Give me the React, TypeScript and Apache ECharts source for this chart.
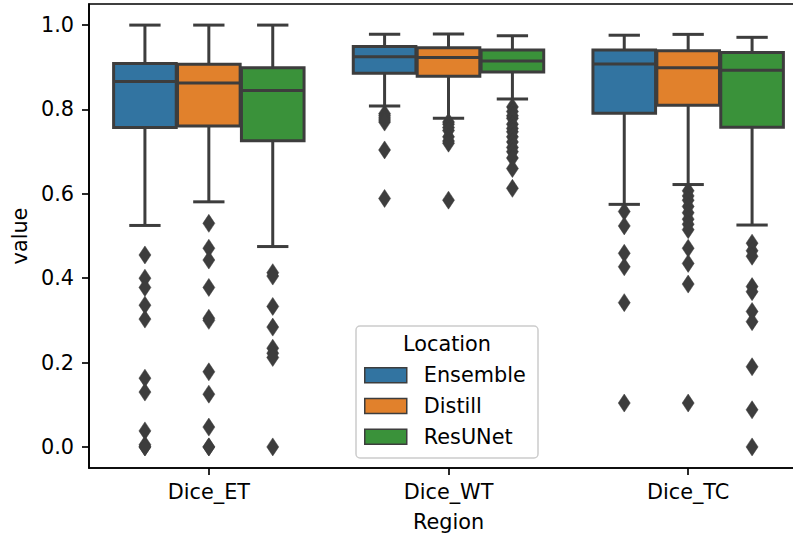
import React, { useEffect, useRef } from "react";
import * as echarts from "echarts";

// ---- data ----
const categories = ["Dice_ET", "Dice_WT", "Dice_TC"];
const hues = ["Ensemble", "Distill", "ResUNet"];
const hueColors = ["#3274a1", "#e1812c", "#3a923a"];
const yTicks = [0, 0.2, 0.4, 0.6, 0.8, 1.0];

// [lowerWhisker, q1, median, q3, upperWhisker] per category
const ensembleStats = [
  [0.525, 0.757, 0.866, 0.909, 1.0],
  [0.808, 0.886, 0.925, 0.949, 0.978],
  [0.575, 0.791, 0.908, 0.941, 0.976],
];
const distillStats = [
  [0.581, 0.761, 0.863, 0.907, 1.0],
  [0.779, 0.879, 0.923, 0.946, 0.979],
  [0.622, 0.81, 0.899, 0.939, 0.978],
];
const resunetStats = [
  [0.475, 0.726, 0.845, 0.899, 1.0],
  [0.825, 0.889, 0.915, 0.941, 0.975],
  [0.526, 0.758, 0.893, 0.935, 0.971],
];

// outliers per category
const ensembleOutliers = [
  [0.455, 0.4, 0.378, 0.336, 0.303, 0.163, 0.13, 0.038, 0.005, 0.0, 0.0],
  [0.79, 0.785, 0.78, 0.775, 0.77, 0.704, 0.589],
  [0.558, 0.524, 0.459, 0.427, 0.342, 0.104],
];
const distillOutliers = [
  [0.53, 0.471, 0.443, 0.378, 0.305, 0.3, 0.178, 0.125, 0.047, 0.0, 0.0],
  [0.77, 0.765, 0.757, 0.75, 0.735, 0.725, 0.72, 0.585],
  [0.607, 0.595, 0.585, 0.57, 0.555, 0.54, 0.528, 0.515, 0.471, 0.435, 0.386, 0.104],
];
const resunetOutliers = [
  [0.413, 0.405, 0.333, 0.284, 0.234, 0.222, 0.212, 0.0],
  [0.806, 0.795, 0.785, 0.779, 0.765, 0.755, 0.747, 0.735, 0.723, 0.71, 0.7, 0.685, 0.66, 0.613],
  [0.483, 0.465, 0.452, 0.38, 0.368, 0.321, 0.297, 0.19, 0.088, 0.0],
];

const allStats = [ensembleStats, distillStats, resunetStats];
const allOutliers = [ensembleOutliers, distillOutliers, resunetOutliers];

const GRAY = "#3d3d3d";
const FONT = "'DejaVu Sans', sans-serif";
const FS = 20.8;
const LW = 3;

function boxSeries(h: number) {
  const data = allStats[h].map((s, i) => [i, ...s]);
  return {
    type: "custom",
    name: hues[h],
    color: hueColors[h],
    itemStyle: { color: hueColors[h] },
    encode: { x: 0, y: [1, 2, 3, 4, 5] },
    data,
    z: 2,
    renderItem: (params: any, api: any) => {
      const cat = api.value(0);
      const band = api.size([1, 0])[0];
      const w = (band * 0.8) / 3;
      const cx = api.coord([cat, 0])[0] + (h - 1) * w;
      const bw = w * 0.98;
      const y = (k: number) => api.coord([cat, api.value(k)])[1];
      const yLow = y(1), yQ1 = y(2), yMed = y(3), yQ3 = y(4), yHigh = y(5);
      const capHalf = bw / 4;
      const ls = { stroke: GRAY, lineWidth: LW };
      return {
        type: "group",
        children: [
          { type: "line", shape: { x1: cx, y1: yQ3, x2: cx, y2: yHigh }, style: ls },
          { type: "line", shape: { x1: cx, y1: yQ1, x2: cx, y2: yLow }, style: ls },
          { type: "line", shape: { x1: cx - capHalf, y1: yHigh, x2: cx + capHalf, y2: yHigh }, style: ls },
          { type: "line", shape: { x1: cx - capHalf, y1: yLow, x2: cx + capHalf, y2: yLow }, style: ls },
          {
            type: "rect",
            shape: { x: cx - bw / 2, y: yQ3, width: bw, height: yQ1 - yQ3 },
            style: { fill: hueColors[h], stroke: GRAY, lineWidth: LW },
          },
          { type: "line", shape: { x1: cx - bw / 2, y1: yMed, x2: cx + bw / 2, y2: yMed }, style: ls },
        ],
      };
    },
  };
}

function outlierSeries(h: number) {
  const data: number[][] = [];
  allOutliers[h].forEach((arr, i) => arr.forEach((v) => data.push([i, v])));
  return {
    type: "custom",
    name: hues[h] + " outliers",
    encode: { x: 0, y: 1 },
    data,
    z: 3,
    renderItem: (params: any, api: any) => {
      const cat = api.value(0);
      const band = api.size([1, 0])[0];
      const w = (band * 0.8) / 3;
      const p = api.coord([cat, api.value(1)]);
      const cx = p[0] + (h - 1) * w;
      const cy = p[1];
      const hw = 6, hh = 9;
      return {
        type: "polygon",
        shape: { points: [[cx, cy - hh], [cx + hw, cy], [cx, cy + hh], [cx - hw, cy]] },
        style: { fill: GRAY, stroke: GRAY, lineWidth: 0.5 },
      };
    },
  };
}

export default function App() {
  const ref = useRef<HTMLDivElement>(null);
  useEffect(() => {
    if (!ref.current) return;
    const chart = echarts.init(ref.current, null, { renderer: "svg" });
    const axisLine = { show: true, onZero: false, lineStyle: { color: "#000", width: 1.67 } };
    chart.setOption({
      animation: false,
      backgroundColor: "#fff",
      textStyle: { fontFamily: FONT },
      grid: {
        left: 89,
        right: -15,
        top: 4,
        bottom: 67,
        show: true,
        borderColor: "#000",
        borderWidth: 1.67,
        backgroundColor: "transparent",
        outerBoundsMode: "none",
      },
      xAxis: {
        type: "category",
        data: categories,
        name: "Region",
        nameLocation: "middle",
        nameGap: 43,
        nameTextStyle: { fontSize: FS, color: "#000", fontFamily: FONT },
        axisLine,
        axisTick: { show: true, alignWithLabel: true, length: 7, lineStyle: { color: "#000", width: 1.67 } },
        axisLabel: { fontSize: FS, color: "#000", margin: 13, fontFamily: FONT },
        splitLine: { show: false },
      },
      yAxis: {
        type: "value",
        min: -0.05,
        max: 1.05,
        name: "value",
        nameLocation: "middle",
        nameGap: 56,
        nameTextStyle: { fontSize: FS, color: "#000", fontFamily: FONT },
        axisLine,
        axisTick: { show: true, length: 7, customValues: yTicks, lineStyle: { color: "#000", width: 1.67 } },
        axisLabel: {
          fontSize: FS,
          color: "#000",
          margin: 15,
          fontFamily: FONT,
          customValues: yTicks,
          formatter: (v: number) => v.toFixed(1),
        },
        splitLine: { show: false },
      },
      legend: {
        data: hues.map((n, i) => ({ name: n, itemStyle: { color: hueColors[i] } })),
        orient: "vertical",
        left: 364,
        top: 364.7,
        padding: 0,
        itemGap: 9.75,
        itemWidth: 42,
        itemHeight: 15,
        icon: "rect",
        selectedMode: false,
        itemStyle: { borderColor: GRAY, borderWidth: 1.5 },
        textStyle: { fontSize: FS, color: "#000", fontFamily: FONT, lineHeight: 21, padding: [0, 0, 0, 12] },
        z: 10,
      },
      graphic: [
        {
          type: "rect",
          shape: { x: 356, y: 326, width: 182, height: 132, r: 4 },
          style: { fill: "rgba(255,255,255,0.8)", stroke: "#cccccc", lineWidth: 1.5 },
          z: 5,
        },
        {
          type: "text",
          x: 447,
          y: 343.5,
          style: { text: "Location", fontSize: FS, fontFamily: FONT, fill: "#000", align: "center", verticalAlign: "middle" },
          z: 6,
        },
      ],
      series: [0, 1, 2].map(boxSeries).concat([0, 1, 2].map(outlierSeries) as any),
    });
    return () => chart.dispose();
  }, []);
  return <div ref={ref} style={{ position: "fixed", left: 0, top: 0, width: 793, height: 535 }} />;
}
